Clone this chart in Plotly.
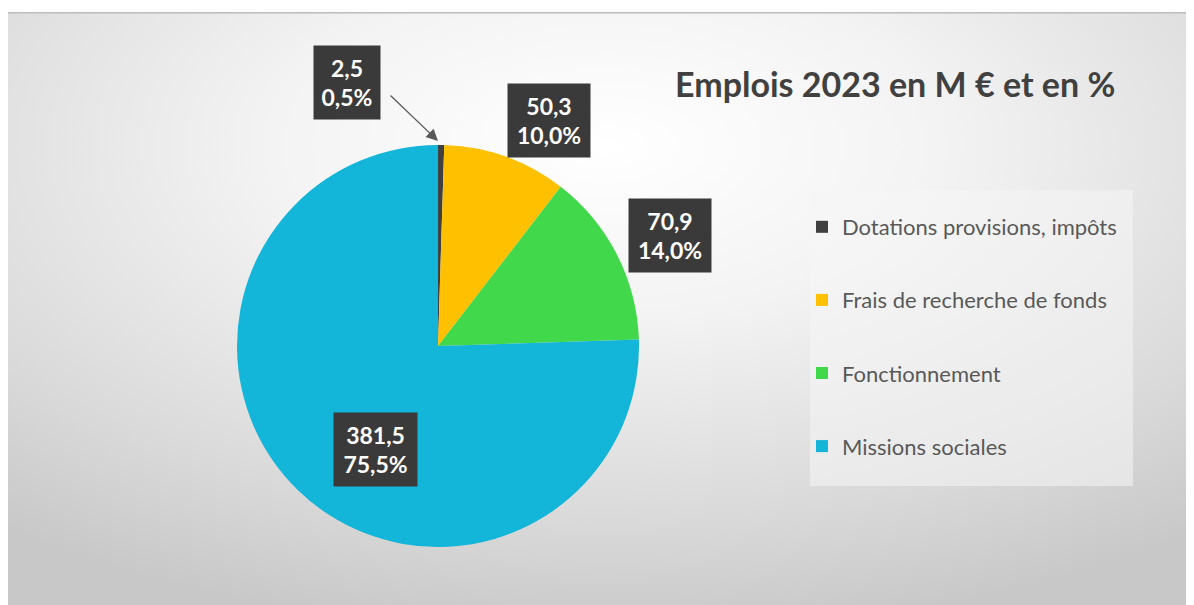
import base64
import plotly.graph_objects as go

# ---- data ----
categories = ["Dotations provisions, impôts", "Frais de recherche de fonds",
              "Fonctionnement", "Missions sociales"]
values = [2.5, 50.3, 70.9, 381.5]
colors = ["#404040", "#FFC000", "#42D84B", "#13B5D8"]
# label box centres and widths (pixels in the reference frame)
label_px = [(346.5, 82.5), (548.5, 120.5), (670.5, 235.5), (375, 449.5)]
label_w = [64, 80, 80, 81]

W, H = 1194, 605
OFF = 8  # page body margin
FONT = "Lato"

total = sum(values)
def fr(v):
    return f"{v:.1f}".replace(".", ",")
label_texts = [f"<b>{fr(v)}<br>{fr(100 * v / total)}%</b>" for v in values]

def px2paper(x, y):
    return (x - OFF) / W, 1 - (y - OFF) / H

# ---- background gradient (SVG image) ----
svg = """<svg xmlns='http://www.w3.org/2000/svg' width='1186' height='593' viewBox='0 0 1186 593'>
<defs>
<radialGradient id='g' cx='50%' cy='22%' r='80%' fx='50%' fy='22%'>
<stop offset='0' stop-color='#FFFFFF'/>
<stop offset='0.35' stop-color='#F3F3F3'/>
<stop offset='0.75' stop-color='#DADADA'/>
<stop offset='1' stop-color='#C8C8C8'/>
</radialGradient>
</defs>
<rect x='0' y='0' width='1186' height='593' fill='url(#g)'/>
<rect x='0' y='0' width='1186' height='1.5' fill='#BDBDBD'/>
</svg>"""
svg_uri = "data:image/svg+xml;base64," + base64.b64encode(svg.encode()).decode()

fig = go.Figure()

dx0, dy1 = px2paper(237, 145)
dx1, dy0 = px2paper(639, 547)
fig.add_trace(go.Pie(
    labels=categories, values=values, sort=False, direction="clockwise",
    rotation=0, marker=dict(colors=colors, line=dict(width=0)),
    textinfo="none", hoverinfo="label+value+percent", showlegend=False,
    domain=dict(x=[dx0, dx1], y=[dy0, dy1]),
))

# legend entries
for i, (c, col) in enumerate(zip(categories, colors)):
    fig.add_trace(go.Scatter(
        x=[None], y=[None], mode="markers", name=c, legendgroup=f"g{i}",
        marker=dict(symbol="square", size=12, color=col),
        showlegend=True, hoverinfo="skip",
    ))

annotations = []
for (px, py), t, w in zip(label_px, label_texts, label_w):
    xx, yy = px2paper(px, py)
    annotations.append(dict(
        x=xx, y=yy, xref="paper", yref="paper", text=t, showarrow=False,
        font=dict(family=FONT, size=23, color="white"),
        bgcolor="#3A3A3A", width=w, height=71, align="center",
        xanchor="center", yanchor="middle",
    ))
# leader arrow for the small slice
tipx, tipy = px2paper(438, 141)
annotations.append(dict(
    x=tipx, y=tipy, xref="paper", yref="paper", text="", showarrow=True,
    ax=-49, ay=-47, arrowhead=2, arrowsize=1.8, arrowwidth=1.3,
    arrowcolor="#595959",
))
# title
tx, ty = px2paper(895, 84)
annotations.append(dict(
    x=tx, y=ty, xref="paper", yref="paper", showarrow=False,
    text="<b>Emplois 2023 en M € et en %</b>",
    font=dict(family=FONT, size=34, color="#404040"),
    xanchor="center", yanchor="middle",
))

bx0, by1 = px2paper(810, 190)
bx1, by0 = px2paper(1133, 486)
lx, ly = px2paper(802, 206)
ix0, iy1 = px2paper(8, 12)

fig.update_layout(
    width=W, height=H, margin=dict(l=0, r=0, t=0, b=0),
    paper_bgcolor="white", plot_bgcolor="rgba(0,0,0,0)",
    xaxis=dict(visible=False, domain=[0.99, 1]),
    yaxis=dict(visible=False, domain=[0.99, 1]),
    images=[dict(source=svg_uri, xref="paper", yref="paper",
                 x=ix0, y=iy1, sizex=1 - ix0, sizey=iy1 + 0.02,
                 xanchor="left", yanchor="top", sizing="stretch", layer="below")],
    shapes=[dict(type="rect", xref="paper", yref="paper",
                 x0=bx0, x1=bx1, y0=by0, y1=by1,
                 fillcolor="rgba(245,245,245,0.55)", line=dict(width=0),
                 layer="below")],
    legend=dict(x=lx, y=ly, xanchor="left", yanchor="top",
                bgcolor="rgba(0,0,0,0)", tracegroupgap=41.5,
                font=dict(family=FONT, size=22, color="#595959"),
                itemclick=False, itemdoubleclick=False),
    annotations=annotations,
    showlegend=True,
)

fig.write_html("out.html")
